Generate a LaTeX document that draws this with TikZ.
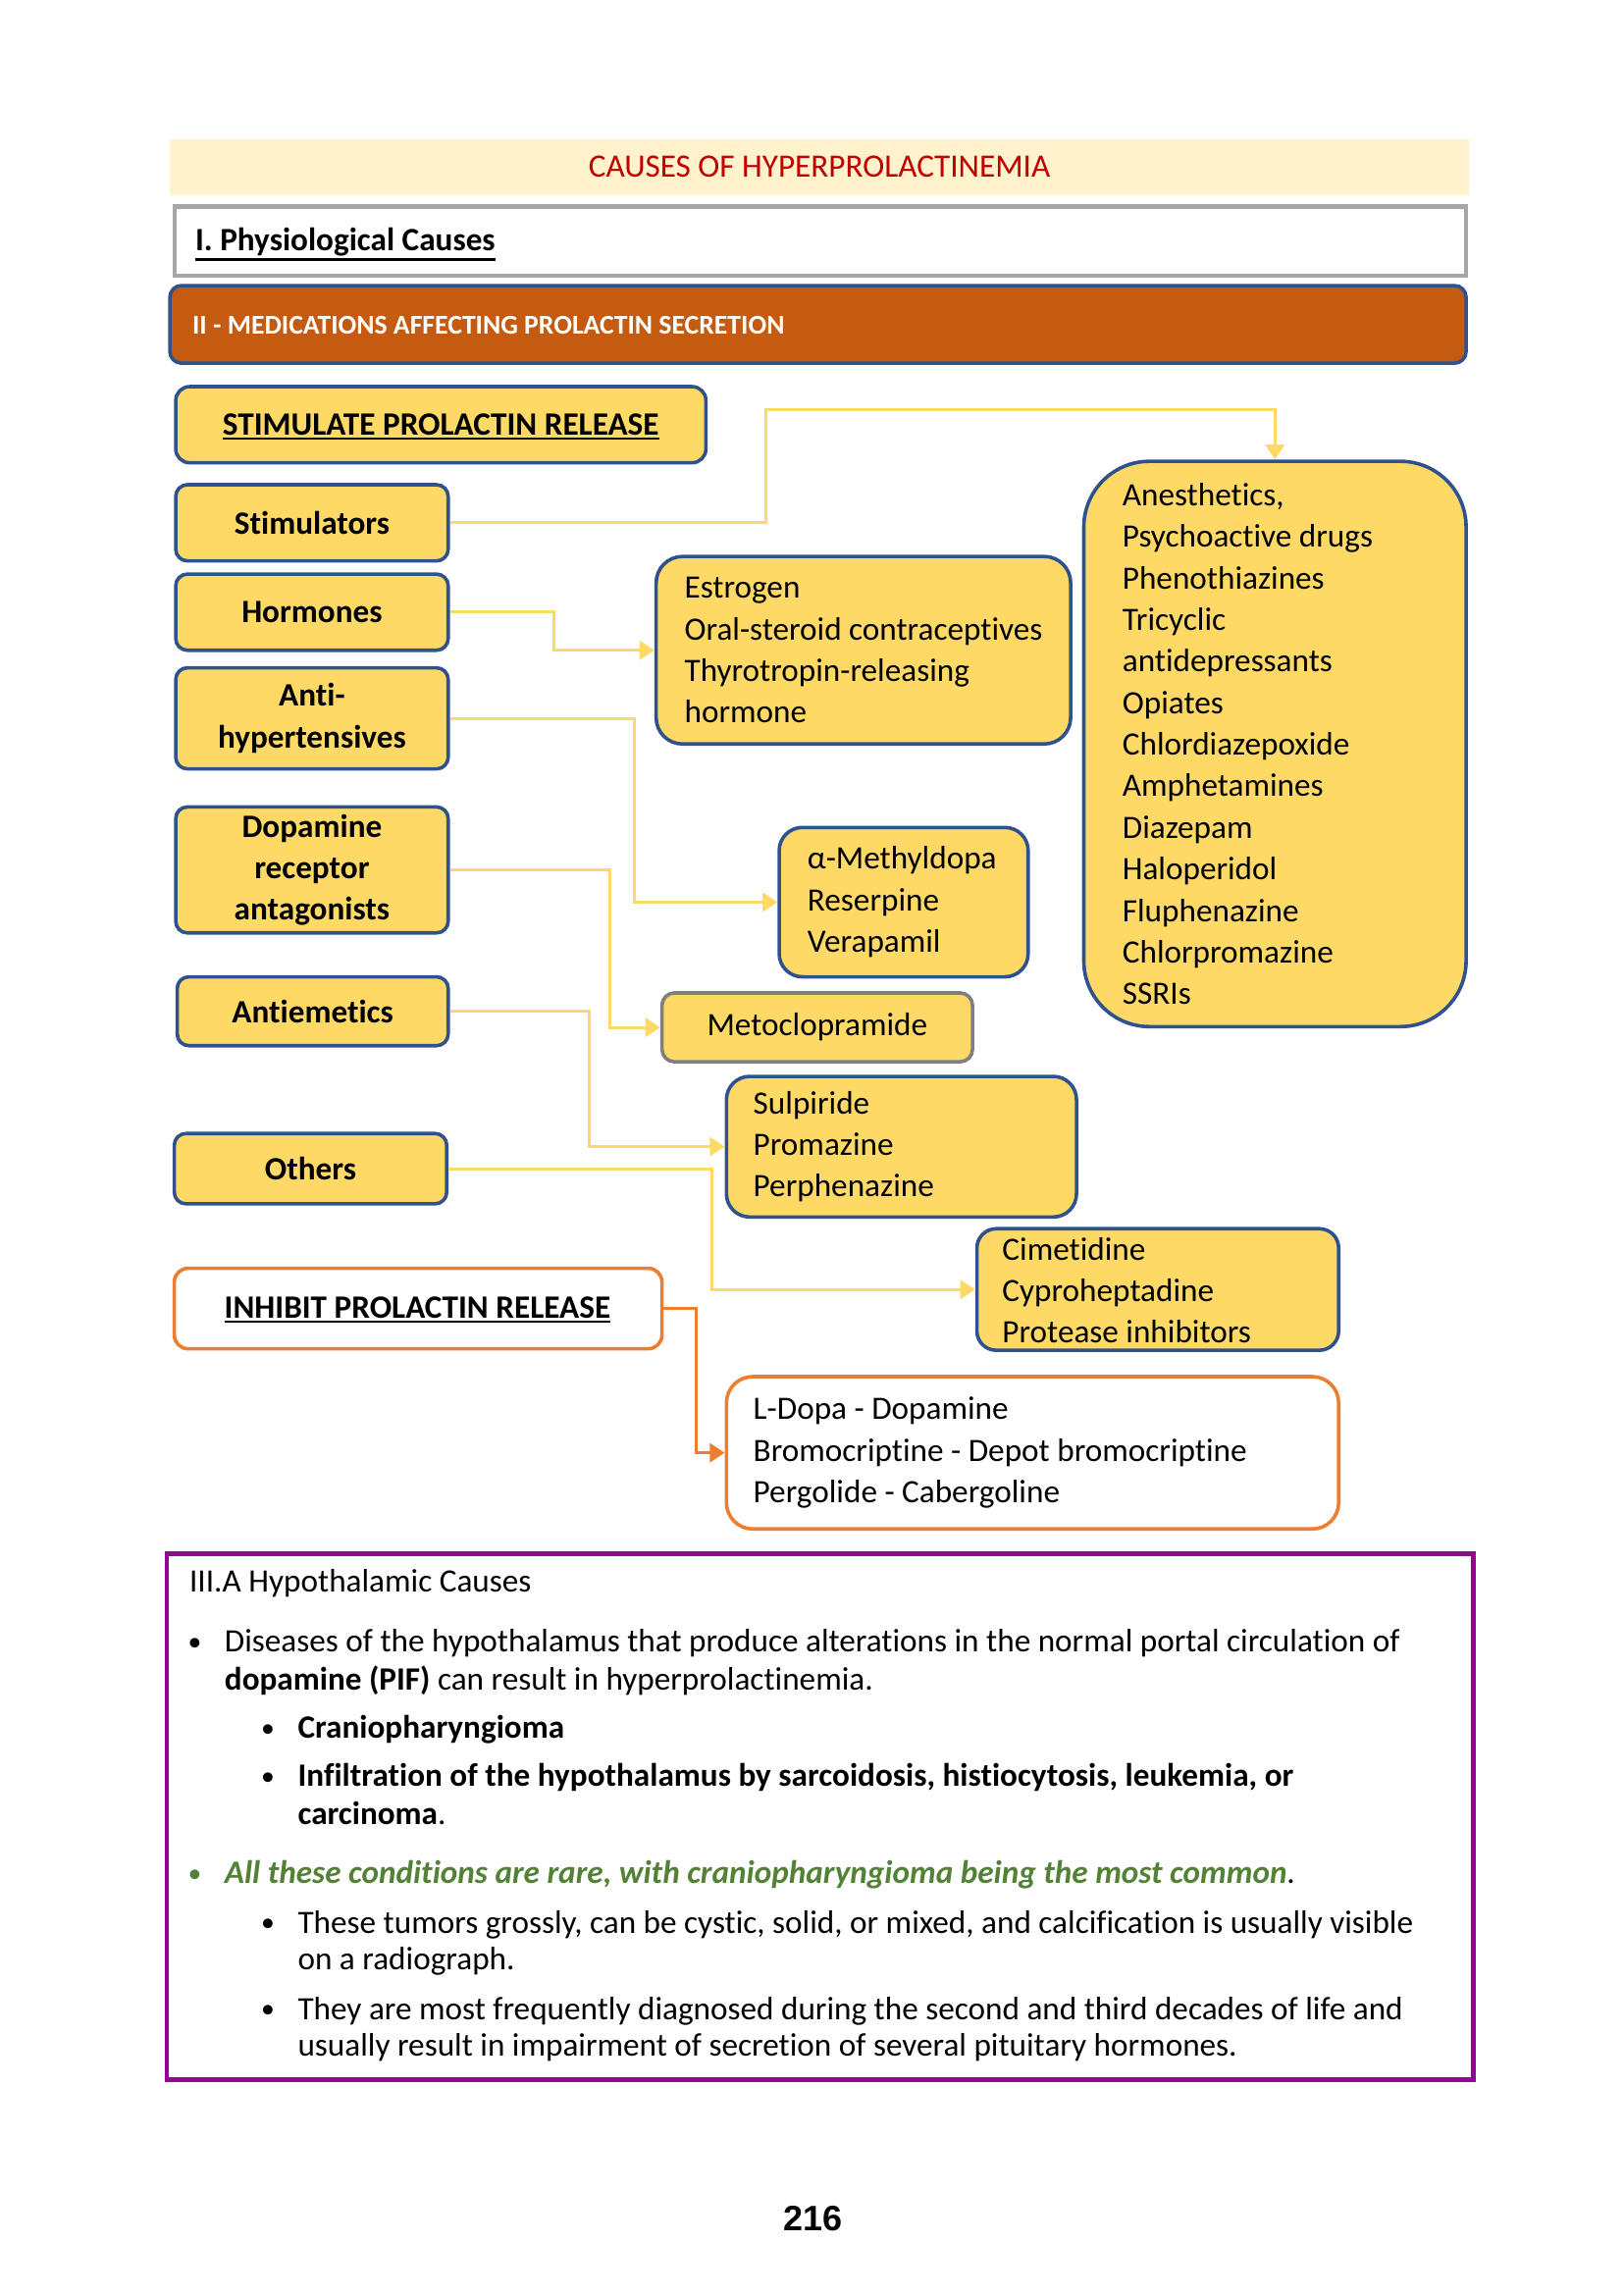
\documentclass[tikz,border=0pt]{standalone}
\usepackage{fontspec}
\setmainfont{Carlito}[Ligatures={NoCommon}]
\newfontfamily\pagenumfont{Liberation Sans}
\usetikzlibrary{arrows.meta,fit}
\definecolor{byellow}{HTML}{FFD966}
\definecolor{lyellow}{HTML}{FFD966}
\definecolor{bblue}{HTML}{2F528F}
\definecolor{titlebg}{HTML}{FFF2CC}
\definecolor{titlered}{HTML}{C00000}
\definecolor{physgray}{HTML}{A6A6A6}
\definecolor{barorange}{HTML}{C55A11}
\definecolor{inhorange}{HTML}{ED7D31}
\definecolor{metogray}{HTML}{7F7F7F}
\definecolor{purp}{HTML}{990099}
\definecolor{darkgreen}{HTML}{538135}
\newcommand{\thickul}[1]{\leavevmode\vtop{\hbox{#1}\kern0.9pt\hrule height 0.85pt}}
\newcommand{\smbul}{{\fontsize{10}{12}\selectfont\raisebox{0.5pt}{•}}}
\begin{document}
\begin{tikzpicture}[x=0.18955mm,y=-0.18955mm,
  ybox/.style={draw=bblue, fill=byellow, line width=1.3pt, rounded corners=1.5mm, inner sep=0pt},
  obox/.style={draw=inhorange, fill=white, line width=1.3pt, rounded corners=1.8mm, inner sep=0pt},
  lbl/.style={font=\bfseries\fontsize{12}{15.3}\selectfont, align=center, inner sep=0pt},
  lst/.style={anchor=west, align=left, inner sep=0pt, font=\fontsize{12}{15.3}\selectfont},
  txt/.style={anchor=base west, inner sep=0pt, font=\fontsize{12}{14}\selectfont},
  conn/.style={draw=lyellow, line width=1.1pt, -{Triangle[length=5.5pt,width=7pt]}},
  oconn/.style={draw=inhorange, line width=1.1pt, -{Triangle[length=5.5pt,width=7pt]}}]
\useasboundingbox (0,0) rectangle (1108.2,1567.1);

% header
\node[fill=titlebg, inner sep=0pt, fit={(116,95)(1003,133)}] (title) {};
\node[inner sep=0pt, font=\fontsize{12}{14}\selectfont, text=titlered] (titleT) at (title.center) {CAUSES OF HYPERPROLACTINEMIA};
\node[draw=physgray, line width=1.5pt, inner sep=0pt, fit={(119,141)(1001,188)}] (phys) {};
\node[anchor=base west, inner sep=0pt, font=\bfseries\fontsize{12}{14}\selectfont] (physT) at (133,171) {\thickul{I. Physiological Causes}};
\node[draw=bblue, fill=barorange, line width=1.3pt, rounded corners=1.5mm, inner sep=0pt, fit={(116,195)(1001,248)}] (bar) {};
\node[anchor=west, inner sep=0pt, text=white, font=\bfseries\fontsize{10}{12}\selectfont] (barT) at (131,222) {II - MEDICATIONS AFFECTING PROLACTIN SECRETION};

% stimulate column
\node[ybox, rounded corners=1.8mm, fit={(120,264)(482,316)}] (stim) {};
\node[lbl, anchor=base] (stimT) at (301,297) {\thickul{STIMULATE PROLACTIN RELEASE}};
\node[ybox, fit={(120,331)(306,383)}] (s1) {};
\node[lbl] (s1T) at (s1.center) {Stimulators};
\node[ybox, fit={(120,392)(306,444)}] (s2) {};
\node[lbl] (s2T) at (s2.center) {Hormones};
\node[ybox, fit={(120,456)(306,525)}] (s3) {};
\node[lbl] (s3T) at (s3.center) {Anti-\\hypertensives};
\node[ybox, fit={(120,551)(306,637)}] (s4) {};
\node[lbl] (s4T) at (s4.center) {Dopamine\\receptor\\antagonists};
\node[ybox, fit={(121,667)(306,714)}] (s5) {};
\node[lbl] (s5T) at (s5.center) {Antiemetics};
\node[ybox, fit={(119,774)(305,822)}] (s6) {};
\node[lbl] (s6T) at (s6.center) {Others};

% drug boxes
\node[ybox, rounded corners=3.4mm, fit={(448,380)(731,508)}] (estro) {};
\node[lst] (estroT) at (467,444) {Estrogen\\Oral-steroid contraceptives\\Thyrotropin-releasing\\hormone};

\node[ybox, rounded corners=8.5mm, fit={(740,315)(1001,701)}] (anes) {};
\node[lst] (anesT) at (766,508) {Anesthetics,\\Psychoactive drugs\\Phenothiazines\\Tricyclic\\antidepressants\\Opiates\\Chlordiazepoxide\\Amphetamines\\Diazepam\\Haloperidol\\Fluphenazine\\Chlorpromazine\\SSRIs};

\node[ybox, rounded corners=3mm, fit={(532,565)(702,667)}] (methyl) {};
\node[lst] (methylT) at (551,616) {α-Methyldopa\\Reserpine\\Verapamil};

\node[ybox, draw=metogray, rounded corners=1.6mm, fit={(452,678)(664,725)}] (meto) {};
\node[inner sep=0pt, font=\fontsize{12}{15.3}\selectfont] (metoT) at (meto.center) {Metoclopramide};

\node[ybox, rounded corners=3mm, fit={(496,735)(735,831)}] (sulp) {};
\node[lst] (sulpT) at (514,783) {Sulpiride\\Promazine\\Perphenazine};

\node[ybox, rounded corners=2.5mm, fit={(667,839)(914,922)}] (cime) {};
\node[lst] (cimeT) at (684,881) {Cimetidine\\Cyproheptadine\\Protease inhibitors};

% inhibit
\node[obox, fit={(119,866)(452,921)}] (inh) {};
\node[lbl, anchor=base] (inhT) at (285,900) {\thickul{INHIBIT PROLACTIN RELEASE}};
\node[obox, rounded corners=3.4mm, fit={(496,940)(914,1044)}] (ldopa) {};
\node[lst] (ldopaT) at (514,992) {L-Dopa - Dopamine\\Bromocriptine - Depot bromocriptine\\Pergolide - Cabergoline};

% connectors
\draw[conn] (s1.east) -| (523,280) -| (anes.north);
\draw[conn] (s2.east) -- ++(71,0) |- (estro.west);
\draw[conn] (s3.east) -- ++(126,0) |- (methyl.west);
\draw[conn] (s4.east) -- ++(109,0) |- (meto.west);
\draw[conn] (s5.east) -- ++(95,0) |- (sulp.west);
\draw[conn] (s6.east) -- ++(180,0) |- (cime.west);
\draw[oconn] (inh.east) -- ++(22,0) |- (ldopa.west);

% hypothalamic box
\node[draw=purp, line width=1.6pt, inner sep=0pt, fit={(114,1061)(1006,1420)}] (hyp) {};
\node[txt] (h0) at (129,1087) {III.A Hypothalamic Causes};
\node[txt] (b1) at (128,1128) {\smbul};
\node[txt] (h1) at (153,1128) {Diseases of the hypothalamus that produce alterations in the normal portal circulation of};
\node[txt] (h2) at (153,1154) {\textbf{dopamine (PIF)} can result in hyperprolactinemia.};
\node[txt] (b2) at (178,1187) {\smbul};
\node[txt] (h3) at (203,1187) {\textbf{Craniopharyngioma}};
\node[txt] (b3) at (178,1220) {\smbul};
\node[txt] (h4) at (203,1220) {\textbf{Infiltration of the hypothalamus by sarcoidosis, histiocytosis, leukemia, or}};
\node[txt] (h5) at (203,1246) {\textbf{carcinoma}.};
\node[txt, text=darkgreen] (b4) at (128,1286) {\smbul};
\node[txt] (h6) at (153,1286) {{\color{darkgreen}\bfseries\itshape All these conditions are rare, with craniopharyngioma being the most common}.};
\node[txt] (b5) at (178,1320) {\smbul};
\node[txt] (h7) at (203,1320) {These tumors grossly, can be cystic, solid, or mixed, and calcification is usually visible};
\node[txt] (h8) at (203,1345) {on a radiograph.};
\node[txt] (b6) at (178,1379) {\smbul};
\node[txt] (h9) at (203,1379) {They are most frequently diagnosed during the second and third decades of life and};
\node[txt] (h10) at (203,1404) {usually result in impairment of secretion of several pituitary hormones.};

% page number
\node[font=\pagenumfont\bfseries\fontsize{13}{15}\selectfont] (pnum) at (555,1515) {216};
\end{tikzpicture}
\end{document}
